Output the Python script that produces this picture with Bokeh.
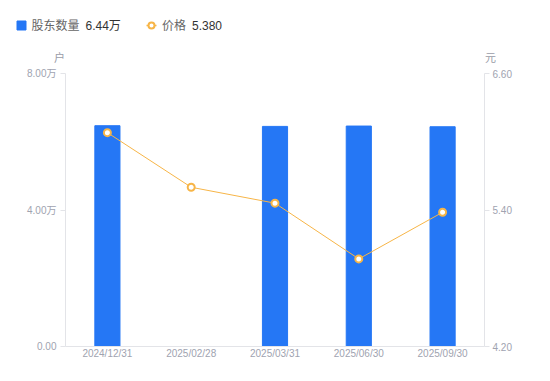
from bokeh.plotting import figure
from bokeh.layouts import column
from bokeh.models import (ColumnDataSource, FactorRange, Range1d, LinearAxis,
                          FixedTicker, PrintfTickFormatter)
from bokeh.core.properties import value
from bokeh.embed import file_html
from bokeh.resources import INLINE

dates = ["2024/12/31", "2025/02/28", "2025/03/31", "2025/06/30", "2025/09/30"]
holders = [6.47, None, 6.45, 6.46, 6.44]   # 万户
prices = [6.08, 5.60, 5.46, 4.97, 5.38]     # 元
left_ticks = [0, 4, 8]
left_tick_labels = {0: "0.00", 4: "4.00万", 8: "8.00万"}
right_ticks = [4.2, 5.4, 6.6]
series_names = ["股东数量", "价格"]
latest_values = ["6.44万", "5.380"]
units = ["户", "元"]

BLUE = "#2577F5"
ORANGE = "#F7B547"
AXIS = "#E3E4E8"
TICK_TXT = "#A0A3B0"
FONT = "Liberation Sans, Noto Sans CJK SC"

W = 542
TOP_H = 65

# ---- header strip: legend and unit labels ----
h = figure(width=W, height=TOP_H, x_range=Range1d(0, W), y_range=Range1d(TOP_H, 0),
           output_backend="svg", toolbar_location=None,
           min_border=0, min_border_left=0, min_border_right=0,
           min_border_top=0, min_border_bottom=0)
h.axis.visible = False
h.grid.visible = False
h.outline_line_color = None
h.frame_align = False

h.scatter([21], [25], marker="square", size=9, color=BLUE)
h.text([31], [25], text=[series_names[0]], text_color="#666666", text_font_size="12px",
       text_font=value(FONT), text_baseline="middle")
h.text([85], [25], text=[latest_values[0]], text_color="#333333", text_font_size="12px",
       text_font=value(FONT), text_baseline="middle")
h.line([146, 156], [25, 25], color=ORANGE, line_width=1.5)
h.scatter([151], [25], marker="circle", size=6, fill_color="white", line_color=ORANGE, line_width=2)
h.text([161.5], [25], text=[series_names[1]], text_color="#666666", text_font_size="12px",
       text_font=value(FONT), text_baseline="middle")
h.text([191.5], [25], text=[latest_values[1]], text_color="#333333", text_font_size="12px",
       text_font=value(FONT), text_baseline="middle")
h.text([59, 490], [57, 57], text=units, text_color="#9A9CA8", text_font_size="11px",
       text_font=value(FONT), text_baseline="middle", text_align="center")

# ---- main chart ----
p = figure(width=W, height=373 - TOP_H, x_range=FactorRange(*dates), y_range=Range1d(0, 8),
           output_backend="svg", toolbar_location=None,
           min_border_left=65, min_border_right=58, min_border_top=8, min_border_bottom=27)
p.outline_line_color = None
p.xgrid.visible = False
p.ygrid.visible = False
p.frame_align = False

bx = [d for d, v in zip(dates, holders) if v is not None]
bv = [v for v in holders if v is not None]
p.vbar(x=bx, top=bv, width=0.3, color=BLUE)

p.extra_y_ranges = {"price": Range1d(4.2, 6.6)}
src = ColumnDataSource(dict(x=dates, y=prices))
p.line("x", "y", source=src, y_range_name="price", color=ORANGE, line_width=1)
p.scatter("x", "y", source=src, y_range_name="price", size=7, marker="circle",
          fill_color="white", line_color=ORANGE, line_width=2)

ax = p.yaxis[0]
ax.ticker = FixedTicker(ticks=left_ticks)
ax.major_label_overrides = left_tick_labels

ra = LinearAxis(y_range_name="price", ticker=FixedTicker(ticks=right_ticks),
                formatter=PrintfTickFormatter(format="%.2f"))
p.add_layout(ra, "right")

for a, so in [(ax, 4), (ra, 3)]:
    a.axis_line_color = AXIS
    a.major_tick_line_color = AXIS
    a.major_tick_out = 5
    a.major_tick_in = 0
    a.minor_tick_line_color = None
    a.major_label_text_color = TICK_TXT
    a.major_label_text_font_size = "10px"
    a.major_label_text_font = FONT
    a.major_label_standoff = so

xa = p.xaxis[0]
xa.axis_line_color = AXIS
xa.major_tick_line_color = None
xa.major_tick_out = 0
xa.major_tick_in = 0
xa.minor_tick_line_color = None
xa.major_label_text_color = TICK_TXT
xa.major_label_text_font_size = "10px"
xa.major_label_text_font = FONT
xa.major_label_standoff = 1

layout = column(h, p, spacing=0)
open("out.html", "w").write(file_html(layout, INLINE))
